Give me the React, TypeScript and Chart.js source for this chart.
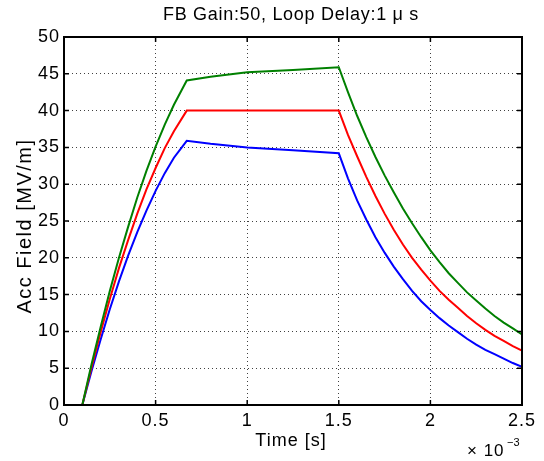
import React, { useEffect, useRef } from "react";
import { Chart, registerables } from "chart.js";

Chart.register(...registerables);

// Time in units of 1e-3 s
const timeMs = [
  0.1, 0.15, 0.2, 0.25, 0.3, 0.35, 0.4, 0.45, 0.5, 0.55, 0.6, 0.67,
  0.8, 1.0, 1.25, 1.5,
  1.55, 1.6, 1.65, 1.7, 1.75, 1.8, 1.85, 1.9, 1.95, 2.0,
  2.05, 2.1, 2.15, 2.2, 2.25, 2.3, 2.35, 2.4, 2.45, 2.5,
];
const greenField = [
  0, 5.5, 10.6, 15.5, 20.0, 24.2, 28.2, 31.8, 35.1, 38.1, 40.8, 44.1,
  44.6, 45.2, 45.5, 45.9,
  42.5, 39.3, 36.4, 33.7, 31.2, 28.9, 26.7, 24.7, 22.8, 21.0,
  19.4, 17.9, 16.6, 15.3, 14.2, 13.1, 12.1, 11.2, 10.4, 9.6,
];
const redField = [
  0, 5.1, 9.9, 14.4, 18.6, 22.4, 26.0, 29.3, 32.2, 34.9, 37.2, 40.0,
  40.0, 40.0, 40.0, 40.0,
  36.7, 33.8, 31.0, 28.4, 26.0, 23.8, 21.8, 20.0, 18.4, 16.9,
  15.5, 14.3, 13.2, 12.1, 11.1, 10.2, 9.4, 8.7, 8.0, 7.4,
];
const blueField = [
  0, 4.6, 8.9, 13.0, 16.8, 20.3, 23.5, 26.4, 29.1, 31.5, 33.6, 35.9,
  35.5, 35.0, 34.6, 34.2,
  30.8, 27.8, 25.2, 22.8, 20.7, 18.8, 17.1, 15.5, 14.1, 12.9,
  11.8, 10.8, 9.9, 9.0, 8.2, 7.5, 6.9, 6.3, 5.7, 5.2,
];

const xTicks = [0, 0.5, 1, 1.5, 2, 2.5];
const xTickLabels = ["0", "0.5", "1", "1.5", "2", "2.5"];
const yTicks = [0, 5, 10, 15, 20, 25, 30, 35, 40, 45, 50];

const titleText = "FB Gain:50, Loop Delay:1 \u03bc s";
const xTitle = "Time [s]";
const yTitle = "Acc Field [MV/m]";
const FONT = "'Liberation Sans', Arial, sans-serif";

const toPoints = (vals: number[]) => vals.map((v, i) => ({ x: timeMs[i], y: v }));

const spacingPlugin = {
  id: "spacing",
  beforeLayout(chart: any) {
    (chart.ctx as any).letterSpacing = "1px";
  },
  beforeDraw(chart: any) {
    (chart.ctx as any).letterSpacing = "1px";
  },
};

const decorPlugin = {
  id: "decor",
  afterDraw(chart: any) {
    const { ctx, chartArea: a, scales } = chart;
    const xs = scales.x;
    const ys = scales.y;
    ctx.save();
    // box
    ctx.strokeStyle = "#000";
    ctx.lineWidth = 2;
    ctx.strokeRect(a.left, a.top, a.right - a.left, a.bottom - a.top);
    // inward ticks
    ctx.lineWidth = 1.5;
    const tl = 5;
    ctx.beginPath();
    xTicks.forEach((t) => {
      const px = xs.getPixelForValue(t);
      ctx.moveTo(px, a.bottom);
      ctx.lineTo(px, a.bottom - tl);
      ctx.moveTo(px, a.top);
      ctx.lineTo(px, a.top + tl);
    });
    yTicks.forEach((t) => {
      const py = ys.getPixelForValue(t);
      ctx.moveTo(a.left, py);
      ctx.lineTo(a.left + tl, py);
      ctx.moveTo(a.right, py);
      ctx.lineTo(a.right - tl, py);
    });
    ctx.stroke();
    // texts
    ctx.fillStyle = "#000";
    ctx.textAlign = "center";
    ctx.textBaseline = "middle";
    (ctx as any).letterSpacing = "0.7px";
    ctx.font = `18px ${FONT}`;
    const cx = (a.left + a.right) / 2;
    ctx.fillText(titleText, cx - 2, 15);
    (ctx as any).letterSpacing = "1px";
    ctx.fillText(xTitle, cx - 2, 441);
    ctx.save();
    ctx.translate(25, 226);
    ctx.rotate(-Math.PI / 2);
    ctx.font = `20px ${FONT}`;
    (ctx as any).letterSpacing = "1.5px";
    ctx.fillText(yTitle, 0, 0);
    ctx.restore();
    // exponent
    ctx.textAlign = "left";
    ctx.textBaseline = "alphabetic";
    (ctx as any).letterSpacing = "1px";
    ctx.font = `17px ${FONT}`;
    ctx.fillText("\u00d7 10", 467, 456);
    ctx.font = `11px ${FONT}`;
    (ctx as any).letterSpacing = "0px";
    ctx.fillText("\u22123", 507, 446);
    ctx.restore();
  },
};

export default function App() {
  const ref = useRef<HTMLCanvasElement | null>(null);
  useEffect(() => {
    if (!ref.current) return;
    const chart = new Chart(ref.current, {
      type: "line",
      data: {
        datasets: [
          { label: "green", data: toPoints(greenField), borderColor: "#008000", borderWidth: 2, pointRadius: 0, tension: 0, fill: false },
          { label: "red", data: toPoints(redField), borderColor: "#ff0000", borderWidth: 2, pointRadius: 0, tension: 0, fill: false },
          { label: "blue", data: toPoints(blueField), borderColor: "#0000ff", borderWidth: 2, pointRadius: 0, tension: 0, fill: false },
        ],
      },
      options: {
        responsive: false,
        animation: false,
        layout: { padding: { left: 0, right: 22, top: 37, bottom: 0 } },
        plugins: { legend: { display: false }, title: { display: false }, tooltip: { enabled: false } },
        scales: {
          x: {
            type: "linear",
            min: 0,
            max: 2.5,
            afterBuildTicks: (s: any) => {
              s.ticks = xTicks.map((v) => ({ value: v }));
            },
            afterFit: (s: any) => {
              s.height = 56;
            },
            ticks: {
              autoSkip: false,
              maxRotation: 0,
              padding: 5,
              color: "#000",
              font: { family: FONT, size: 18 },
              callback: (v: any) => xTickLabels[xTicks.indexOf(Number(v))] ?? String(v),
            },
            grid: { color: "rgba(0,0,0,0.75)", lineWidth: 1, drawTicks: false },
            border: { display: false, dash: [1, 3] },
          },
          y: {
            min: 0,
            max: 50,
            afterBuildTicks: (s: any) => {
              s.ticks = yTicks.map((v) => ({ value: v }));
            },
            afterFit: (s: any) => {
              s.width = 64;
            },
            ticks: {
              padding: 4,
              color: "#000",
              font: { family: FONT, size: 18 },
            },
            grid: { color: "rgba(0,0,0,0.75)", lineWidth: 1, drawTicks: false },
            border: { display: false, dash: [1, 3] },
          },
        },
      },
      plugins: [spacingPlugin, decorPlugin],
    });
    return () => chart.destroy();
  }, []);
  return (
    <div style={{ position: "absolute", left: 0, top: 0, width: 544, height: 461, background: "#fff" }}>
      <canvas ref={ref} width={544} height={461} style={{ width: 544, height: 461 }} />
    </div>
  );
}
